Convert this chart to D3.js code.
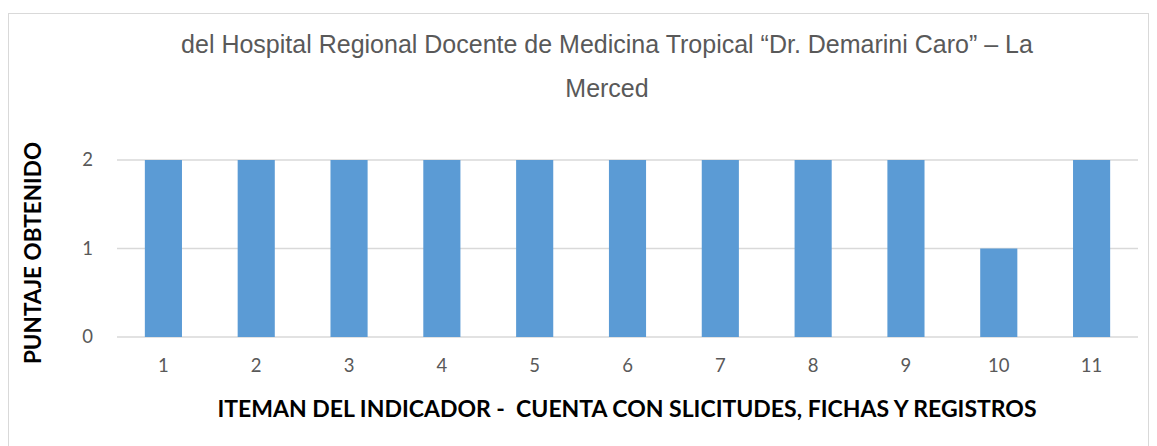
<!DOCTYPE html>
<html>
<head>
<meta charset="utf-8">
<script src="https://cdn.jsdelivr.net/npm/d3@7"></script>
<style>
  body { margin: 0; background: #fff; }
</style>
</head>
<body>
<div id="chart"></div>
<script>
// Datos del grafico
const items = ["1", "2", "3", "4", "5", "6", "7", "8", "9", "10", "11"];
const puntajes = [2, 2, 2, 2, 2, 2, 2, 2, 2, 1, 2];
const yTicks = [0, 1, 2];
const titleLines = ["del Hospital Regional Docente de Medicina Tropical \u201cDr. Demarini Caro\u201d \u2013 La", "Merced"];
const xTitle = "ITEMAN DEL INDICADOR -  CUENTA CON SLICITUDES, FICHAS Y REGISTROS";
const yTitle = "PUNTAJE OBTENIDO";

const W = 1157, H = 446;
const margin = { top: 160, right: 19, bottom: 109, left: 117 };
const width = W - margin.left - margin.right,
    height = H - margin.top - margin.bottom;

const svg = d3.select("#chart").append("svg")
    .attr("width", W)
    .attr("height", H);

// Borde del area del grafico
svg.append("rect")
    .attr("x", 8.5).attr("y", 13.5)
    .attr("width", 1140).attr("height", 440)
    .attr("fill", "none")
    .attr("stroke", "#d9d9d9")
    .attr("stroke-width", 1);

const g = svg.append("g")
    .attr("transform", `translate(${margin.left}, ${margin.top})`);

const x = d3.scaleBand()
    .domain(items)
    .range([0, width])
    .paddingInner(0.6)
    .paddingOuter(0.3);

const y = d3.scaleLinear()
    .domain([0, 2])
    .range([height, 0]);

// Lineas de cuadricula
g.selectAll(".grid")
    .data(yTicks)
    .enter()
    .append("line")
    .attr("class", "grid")
    .attr("x1", 0)
    .attr("x2", width)
    .attr("y1", d => y(d))
    .attr("y2", d => y(d))
    .attr("stroke", "#d9d9d9")
    .attr("stroke-width", 1.5);

// Barras
g.selectAll(".bar")
    .data(puntajes)
    .enter()
    .append("rect")
    .attr("class", "bar")
    .attr("x", (d, i) => x(items[i]))
    .attr("width", x.bandwidth())
    .attr("y", d => y(d))
    .attr("height", d => height - y(d))
    .attr("fill", "#5b9bd5");

// Eje X
g.append("g")
    .attr("transform", `translate(0, ${height})`)
    .call(d3.axisBottom(x).tickSize(0).tickPadding(22))
    .call(a => a.select(".domain").remove())
    .selectAll("text")
    .style("font-family", "Lato, 'Open Sans', sans-serif")
    .style("font-size", "18.5px")
    .style("fill", "#595959");

// Eje Y
g.append("g")
    .call(d3.axisLeft(y).tickValues(yTicks).tickFormat(d3.format("d")).tickSize(0).tickPadding(24))
    .call(a => a.select(".domain").remove())
    .selectAll("text")
    .style("font-family", "Lato, 'Open Sans', sans-serif")
    .style("font-size", "18.5px")
    .style("fill", "#595959");

// Titulo
svg.selectAll(".title")
    .data(titleLines)
    .enter()
    .append("text")
    .attr("class", "title")
    .attr("x", 607)
    .attr("y", (d, i) => 53 + i * 44)
    .attr("text-anchor", "middle")
    .style("font-family", "'Liberation Sans', Arial, sans-serif")
    .style("font-size", "25px")
    .style("fill", "#595959")
    .text(d => d);

// Titulo eje X
svg.append("text")
    .attr("x", 627)
    .attr("y", 417)
    .attr("text-anchor", "middle")
    .style("white-space", "pre")
    .style("font-family", "Lato, 'Open Sans', sans-serif")
    .style("font-weight", "bold")
    .style("font-size", "23px")
    .style("fill", "#000")
    .text(xTitle);

// Titulo eje Y
svg.append("text")
    .attr("transform", "translate(41, 253) rotate(-90)")
    .attr("text-anchor", "middle")
    .style("font-family", "Lato, 'Open Sans', sans-serif")
    .style("font-weight", "bold")
    .style("font-size", "22.5px")
    .style("fill", "#000")
    .text(yTitle);
</script>
</body>
</html>
